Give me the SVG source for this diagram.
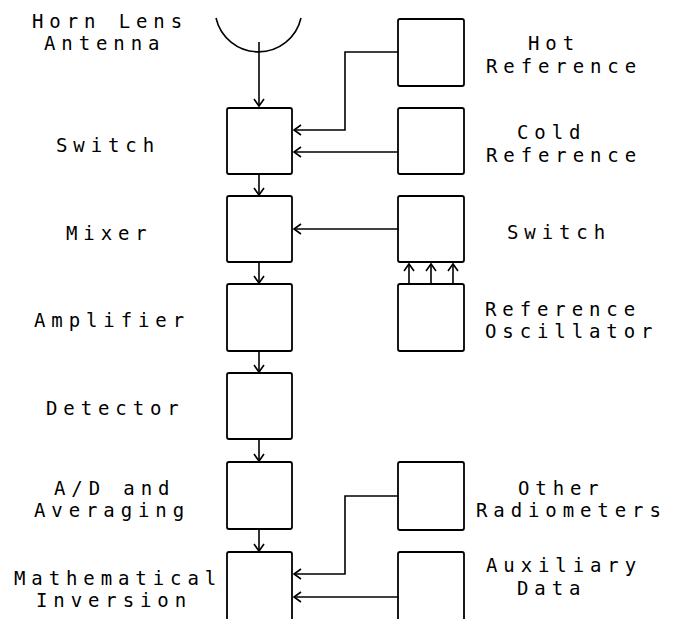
<svg xmlns="http://www.w3.org/2000/svg" width="673" height="619" viewBox="0 0 673 619">
<style>
.box{fill:none;stroke:#000;stroke-width:1.8}
.ln{fill:none;stroke:#000;stroke-width:1.6}
.lbl{font-family:"DejaVu Sans Mono","Liberation Mono",monospace;font-size:19px;letter-spacing:5.9px;fill:#000}
</style>
<defs>
<marker id="ah" markerUnits="userSpaceOnUse" markerWidth="14" markerHeight="14" viewBox="-8 -7 10 14" refX="0" refY="0" orient="auto" overflow="visible">
<path d="M-7,-5 L0,0 L-7,5" fill="none" stroke="#000" stroke-width="1.6"/>
</marker>
</defs>
<rect width="673" height="619" fill="#fff"/>
<g id="antenna">
<path class="ln" d="M216,18 A43.6,43.6 0 0 0 301,18"/>
<text class="lbl" x="32" y="28">Horn Lens</text>
<text class="lbl" x="44" y="50">Antenna</text>
</g>
<g id="switch"><rect class="box" x="227" y="108" width="65" height="66" rx="2"/><text class="lbl" x="56" y="152">Switch</text></g>
<g id="mixer"><rect class="box" x="227" y="196" width="65" height="66" rx="2"/><text class="lbl" x="66" y="240">Mixer</text></g>
<g id="amplifier"><rect class="box" x="227" y="284" width="65" height="67" rx="2"/><text class="lbl" x="34" y="327">Amplifier</text></g>
<g id="detector"><rect class="box" x="227" y="373" width="65" height="66" rx="2"/><text class="lbl" x="46" y="415">Detector</text></g>
<g id="ad"><rect class="box" x="227" y="462" width="65" height="67" rx="2"/><text class="lbl" x="54" y="495">A/D and</text><text class="lbl" x="34" y="517">Averaging</text></g>
<g id="math"><rect class="box" x="227" y="552" width="65" height="80" rx="2"/><text class="lbl" x="14" y="585">Mathematical</text><text class="lbl" x="36" y="607">Inversion</text></g>
<g id="hot"><rect class="box" x="398" y="19" width="66" height="67" rx="2"/><text class="lbl" x="528" y="50">Hot</text><text class="lbl" x="486" y="73">Reference</text></g>
<g id="cold"><rect class="box" x="398" y="108" width="66" height="66" rx="2"/><text class="lbl" x="517" y="139">Cold</text><text class="lbl" x="486" y="162">Reference</text></g>
<g id="switch2"><rect class="box" x="398" y="196" width="66" height="66" rx="2"/><text class="lbl" x="507" y="239">Switch</text></g>
<g id="oscillator"><rect class="box" x="398" y="284" width="66" height="67" rx="2"/><text class="lbl" x="485" y="316">Reference</text><text class="lbl" x="485" y="338">Oscillator</text></g>
<g id="other"><rect class="box" x="398" y="462" width="66" height="68" rx="2"/><text class="lbl" x="518" y="495">Other</text><text class="lbl" x="476" y="517">Radiometers</text></g>
<g id="aux"><rect class="box" x="398" y="552" width="66" height="80" rx="2"/><text class="lbl" x="486" y="572">Auxiliary</text><text class="lbl" x="517" y="595">Data</text></g>
<g id="connectors">
<path class="ln" d="M259,42 V106" marker-end="url(#ah)"/>
<path class="ln" d="M259,174 V195" marker-end="url(#ah)"/>
<path class="ln" d="M259,262 V283" marker-end="url(#ah)"/>
<path class="ln" d="M259,351 V372" marker-end="url(#ah)"/>
<path class="ln" d="M259,439 V461" marker-end="url(#ah)"/>
<path class="ln" d="M259,529 V551" marker-end="url(#ah)"/>
<path class="ln" d="M398,52 H345 V130 H294" marker-end="url(#ah)"/>
<path class="ln" d="M398,152 H294" marker-end="url(#ah)"/>
<path class="ln" d="M398,229 H294" marker-end="url(#ah)"/>
<path class="ln" d="M409,284 V264" marker-end="url(#ah)"/>
<path class="ln" d="M431,284 V264" marker-end="url(#ah)"/>
<path class="ln" d="M453,284 V264" marker-end="url(#ah)"/>
<path class="ln" d="M398,496 H345 V574 H294" marker-end="url(#ah)"/>
<path class="ln" d="M398,597 H294" marker-end="url(#ah)"/>
</g>
</svg>
